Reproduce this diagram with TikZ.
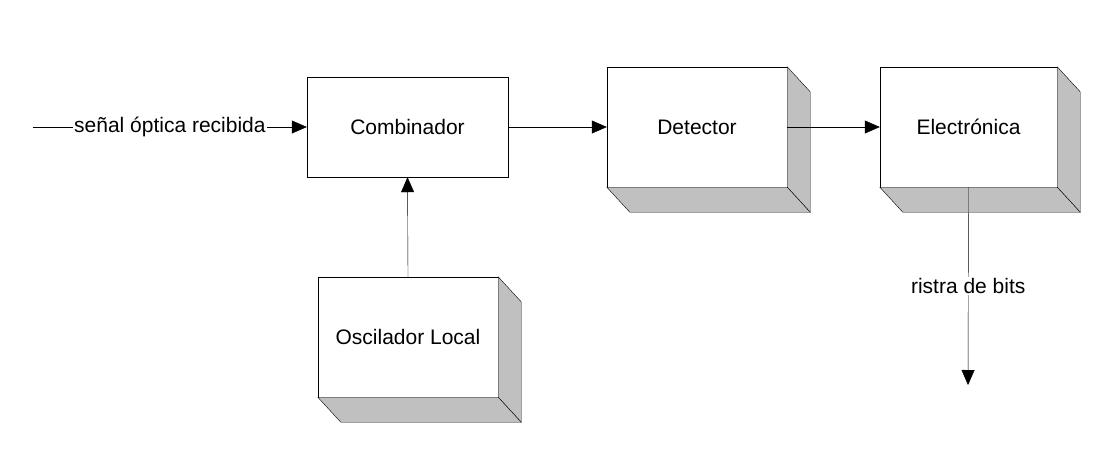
\documentclass[tikz,border=0pt]{standalone}
\usepackage{fontspec}
\setmainfont{Liberation Sans}
\usetikzlibrary{arrows.meta,calc}
\newcommand\mydepth[1]{%
  \draw[fill=sidegray] (#1.north east) -- ++(23,25) -- ($(#1.south east)+(23,25)$) -- (#1.south east) -- cycle;
  \draw[fill=sidegray] (#1.south west) -- ++(23,25) -- ($(#1.south east)+(23,25)$) -- (#1.south east) -- cycle;
}
\definecolor{sidegray}{RGB}{192,192,192}
\begin{document}
\begin{tikzpicture}[x=1pt,y=-1pt,
  blk/.style={draw,fill=white,inner sep=0pt,font=\fontsize{21}{25}\selectfont},
  arr/.style={-{Triangle[length=15pt,width=13pt]}},
  lbl/.style={fill=white,inner sep=1pt,font=\fontsize{21}{25}\selectfont}]
\useasboundingbox (0,0) rectangle (1115,450);
\node[blk,minimum width=201pt,minimum height=100pt] (comb) at (407.5,127) {Combinador};
\node[blk,minimum width=180pt,minimum height=120pt] (det) at (697,127) {Detector};
\node[blk,minimum width=177pt,minimum height=120pt] (ele) at (968.5,127) {Electrónica};
\node[blk,minimum width=180pt,minimum height=120pt] (osc) at (408,337) {Oscilador Local};
\mydepth{det}\mydepth{ele}\mydepth{osc}
\coordinate (in) at (33,127);
\coordinate (out) at (968,385);
\draw[arr] (in) -- node[lbl]{señal óptica recibida} (comb.west);
\draw[arr] (comb.east) -- (det.west);
\draw[arr] (det.east) -- (ele.west);
\draw[arr] (osc.north) -- (comb.south);
\draw[arr] (ele.south) -- node[lbl,pos=0.5]{ristra de bits} (out);
\end{tikzpicture}
\end{document}
